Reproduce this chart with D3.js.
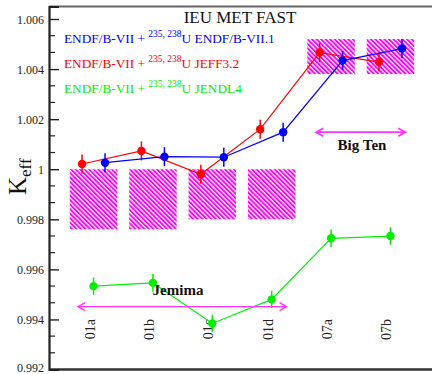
<!DOCTYPE html>
<html>
<head>
<meta charset="utf-8">
<script src="https://cdn.jsdelivr.net/npm/d3@7"></script>
<style>
  html, body { margin: 0; padding: 0; background: #fff; }
  svg { display: block; font-family: "Liberation Serif", "Times New Roman", serif; }
</style>
</head>
<body>
<svg id="chart" width="432" height="374"></svg>
<script>
// Benchmark cases (IEU-MET-FAST)
const categories = ["01a", "01b", "01c", "01d", "07a", "07b"];

// Calculated k-eff per library combination
const endfVals  = [1.00026, 1.00050, 1.00048, 1.00148, 1.00434, 1.00482];
const jeffVals  = [1.00021, 1.00073, 0.99980, 1.00160, 1.00466, 1.00428];
const jendlVals = [0.99533, 0.99546, 0.99384, 0.99480, 0.99724, 0.99733];

// Statistical uncertainties
const endfErr  = [0.00038, 0.00038, 0.00038, 0.00038, 0.00038, 0.00038];
const jeffErr  = [0.00038, 0.00038, 0.00038, 0.00038, 0.00038, 0.00038];
const jendlErr = [0.00035, 0.00035, 0.00035, 0.00035, 0.00035, 0.00035];

// Benchmark experimental values and uncertainty bands
const expVals = [0.9988, 0.9988, 0.9990, 0.9990, 1.0045, 1.0045];
const expErr  = [0.0012, 0.0012, 0.0010, 0.0010, 0.0007, 0.0007];

// Y axis ticks
const yTickVals = [0.992, 0.994, 0.996, 0.998, 1.000, 1.002, 1.004, 1.006];
const yTickLabels = ["0.992", "0.994", "0.996", "0.998", "1", "1.002", "1.004", "1.006"];

const svg = d3.select("#chart");
const mLeft = 49, mTop = 6.5, mBottom = 369.5, mRight = 435;

const x = d3.scaleLinear().domain([-0.75, categories.length - 0.25]).range([mLeft, mRight]);
const y = d3.scaleLinear().domain([0.992, 1.0065]).range([mBottom, mTop]);
const step = x(1) - x(0);

// hatch pattern for experimental bands
const defs = svg.append("defs");
const pat = defs.append("pattern")
  .attr("id", "hatch")
  .attr("patternUnits", "userSpaceOnUse")
  .attr("width", 3.2).attr("height", 3.2)
  .attr("patternTransform", "rotate(-45)");
pat.append("rect").attr("width", 3.2).attr("height", 3.2).attr("fill", "#fff");
pat.append("rect").attr("x", 0).attr("y", 0).attr("width", 1.9).attr("height", 3.2)
  .attr("fill", "#ff00ff");

svg.append("g").selectAll("rect")
  .data(categories)
  .join("rect")
  .attr("x", (d, i) => x(i) - step * 0.4)
  .attr("width", step * 0.8)
  .attr("y", (d, i) => y(expVals[i] + expErr[i]))
  .attr("height", (d, i) => y(expVals[i] - expErr[i]) - y(expVals[i] + expErr[i]))
  .attr("fill", "url(#hatch)");

// Frame
svg.append("line").attr("x1", mLeft).attr("x2", 432).attr("y1", mTop).attr("y2", mTop)
  .attr("stroke", "#666").attr("stroke-width", 2);
svg.append("line").attr("x1", mLeft).attr("x2", 432).attr("y1", mBottom).attr("y2", mBottom)
  .attr("stroke", "#333").attr("stroke-width", 2.5);

// Y axis
const yAxis = d3.axisRight(y)
  .tickValues(yTickVals)
  .tickSize(10)
  .tickFormat(() => "");
const gy = svg.append("g").attr("transform", `translate(${mLeft},0)`).call(yAxis);
gy.select(".domain").attr("stroke", "#222").attr("stroke-width", 2.2);
gy.selectAll(".tick line").attr("stroke", "#222").attr("stroke-width", 1.4);

// minor ticks (three per major interval)
const minor = [];
for (let k = 0; k < yTickVals.length - 1; k++) {
  const a = yTickVals[k], b = yTickVals[k + 1];
  minor.push(a + (b - a) / 3, a + 2 * (b - a) / 3);
}
svg.append("g").selectAll("line").data(minor).join("line")
  .attr("x1", mLeft).attr("x2", mLeft + 6)
  .attr("y1", d => y(d)).attr("y2", d => y(d))
  .attr("stroke", "#222").attr("stroke-width", 1.2);

svg.append("g").selectAll("text").data(yTickVals).join("text")
  .attr("x", 44).attr("y", d => Math.min(y(d) + 4.5, 372))
  .attr("text-anchor", "end")
  .attr("font-size", 12)
  .attr("fill", "#222")
  .text((d, i) => yTickLabels[i]);

// Y label
const ylab = svg.append("text")
  .attr("transform", "translate(26,195) rotate(-90)")
  .attr("fill", "#111");
ylab.append("tspan").attr("font-size", 25).text("K");
ylab.append("tspan").attr("font-size", 17).attr("dy", 5).text("eff");

// category labels
svg.append("g").selectAll("text").data(categories).join("text")
  .attr("transform", (d, i) => `translate(${x(i) + 1},319) rotate(-90)`)
  .attr("text-anchor", "end")
  .attr("font-size", 14)
  .attr("fill", "#222")
  .text(d => d);

// Series
const series = [
  { vals: jendlVals, err: jendlErr, color: "#00ee00", off: 0 },
  { vals: jeffVals,  err: jeffErr,  color: "#ff0000", off: -11.5 },
  { vals: endfVals,  err: endfErr,  color: "#0000ff", off: 11.5 }
];

series.forEach(s => {
  const g = svg.append("g");
  const line = d3.line().x((d, i) => x(i) + s.off).y(d => y(d));
  g.append("path").datum(s.vals).attr("d", line)
    .attr("fill", "none").attr("stroke", s.color).attr("stroke-width", 1.2);
  g.selectAll("line.err").data(s.vals).join("line")
    .attr("class", "err")
    .attr("x1", (d, i) => x(i) + s.off).attr("x2", (d, i) => x(i) + s.off)
    .attr("y1", (d, i) => y(d + s.err[i])).attr("y2", (d, i) => y(d - s.err[i]))
    .attr("stroke", s.color).attr("stroke-width", 1.5);
  g.selectAll("circle").data(s.vals).join("circle")
    .attr("cx", (d, i) => x(i) + s.off).attr("cy", d => y(d))
    .attr("r", 4.2).attr("fill", s.color);
});

// Range arrows
function arrow(x1, x2, yy, w) {
  const g = svg.append("g").attr("stroke", "#ff33ff").attr("stroke-width", w).attr("fill", "none");
  g.append("line").attr("x1", x1).attr("x2", x2).attr("y1", yy).attr("y2", yy);
  g.append("path").attr("d", `M${x1 + 7},${yy - 4}L${x1},${yy}L${x1 + 7},${yy + 4}`);
  g.append("path").attr("d", `M${x2 - 7},${yy - 4}L${x2},${yy}L${x2 - 7},${yy + 4}`);
}
arrow(x(-0.26), x(3.25), y(0.99451), 1.4);
arrow(x(3.75), x(5.25), y(1.00148), 1.8);

svg.append("text").attr("x", 178).attr("y", 295).attr("text-anchor", "middle")
  .attr("font-size", 15).attr("font-weight", "bold").attr("fill", "#111").text("Jemima");
svg.append("text").attr("x", 362).attr("y", 150).attr("text-anchor", "middle")
  .attr("font-size", 15).attr("font-weight", "bold").attr("fill", "#111").text("Big Ten");

// Title
svg.append("text").attr("x", 240).attr("y", 23).attr("text-anchor", "middle")
  .attr("font-size", 17).attr("fill", "#111").text("IEU MET FAST");

// Legend
const legend = [
  { lib: "ENDF/B-VII.1", color: "#0000ff" },
  { lib: "JEFF3.2", color: "#ff0000" },
  { lib: "JENDL4", color: "#00ee00" }
];
legend.forEach((l, k) => {
  const t = svg.append("text").attr("x", 64).attr("y", 43 + k * 25)
    .attr("font-size", 13.3).attr("fill", l.color);
  t.append("tspan").text("ENDF/B-VII + ");
  t.append("tspan").attr("font-size", 9.5).attr("dy", -6).text("235, 238");
  t.append("tspan").attr("dy", 6).text("U " + l.lib);
});
</script>
</body>
</html>
